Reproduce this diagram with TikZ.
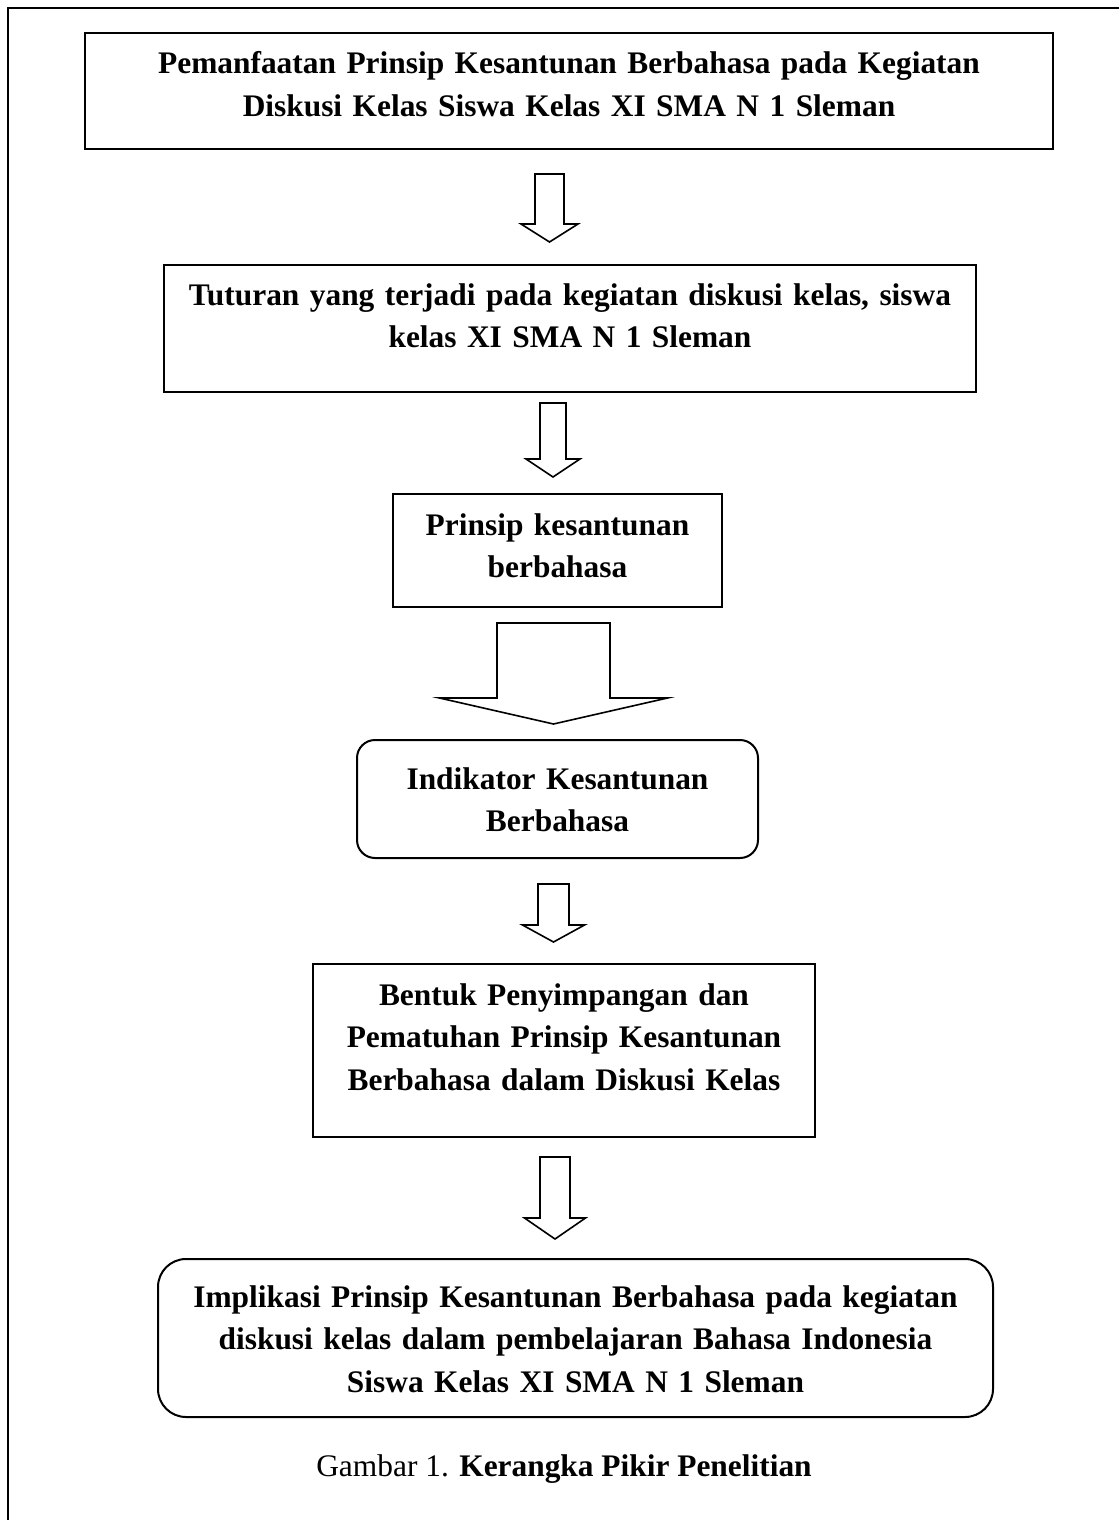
\documentclass[tikz,border=0pt]{standalone}
\usepackage{fontspec}
\setmainfont{Liberation Serif}
\usetikzlibrary{calc}
\tikzset{
  plainbox/.style={draw, line width=2pt, inner sep=0pt},
  roundbox/.style={plainbox, rounded corners=#1},
  roundbox/.default=20pt,
  boxtext/.style={anchor=base, inner sep=0pt, text width=1000pt, align=center, font=\fontsize{31.4}{42.5}\selectfont\bfseries},
  captext/.style={anchor=base, inner sep=0pt, font=\fontsize{31.4}{40}\selectfont},
  hollowarrow/.style={draw, line width=1.6pt, line join=miter, fill=white},
}
% hollow block arrow: tail, tip, half shaft, half head, head length
\newcommand{\panah}[5]{%
  \draw[hollowarrow] let \p1=(#1), \p2=(#2) in
    (\x1-#3pt,\y1) -- (\x1+#3pt,\y1) -- (\x1+#3pt,\y2+#5pt) -- (\x1+#4pt,\y2+#5pt)
    -- (\x2,\y2) -- (\x1-#4pt,\y2+#5pt) -- (\x1-#3pt,\y2+#5pt) -- cycle;}

\begin{document}
\begin{tikzpicture}[x=1pt, y=-1pt]
  \useasboundingbox (0,0) rectangle (1119,1520);
  \draw[line width=2pt] (1119,8) -- (8,8) -- (8,1520);

  \node[plainbox, minimum width=968pt, minimum height=116pt] (kotak1) at (569,91) {};
  \node[boxtext] (teks1) at (569,74) {Pemanfaatan Prinsip Kesantunan Berbahasa pada Kegiatan\\Diskusi Kelas Siswa Kelas XI SMA N 1 Sleman};

  \node[plainbox, minimum width=812pt, minimum height=127pt] (kotak2) at (570,328.5) {};
  \node[boxtext] (teks2) at (570,305) {Tuturan yang terjadi pada kegiatan diskusi kelas, siswa\\kelas XI SMA N 1 Sleman};

  \node[plainbox, minimum width=329pt, minimum height=113pt] (kotak3) at (557.5,550.5) {};
  \node[boxtext] (teks3) at (557.5,535) {Prinsip kesantunan\\berbahasa};

  \node[roundbox=18pt, minimum width=401pt, minimum height=118pt] (kotak4) at (557.5,799) {};
  \node[boxtext] (teks4) at (557.5,789) {Indikator Kesantunan\\Berbahasa};

  \node[plainbox, minimum width=502pt, minimum height=173pt] (kotak5) at (564,1050.5) {};
  \node[boxtext] (teks5) at (564,1005) {Bentuk Penyimpangan dan\\Pematuhan Prinsip Kesantunan\\Berbahasa dalam Diskusi Kelas};

  \node[roundbox=28pt, minimum width=835pt, minimum height=158pt] (kotak6) at (575.5,1338) {};
  \node[boxtext] (teks6) at (575.5,1307) {Implikasi Prinsip Kesantunan Berbahasa pada kegiatan\\diskusi kelas dalam pembelajaran Bahasa Indonesia\\Siswa Kelas XI SMA N 1 Sleman};

  \node[captext] (judul) at (564,1476) {Gambar 1. \textbf{Kerangka Pikir Penelitian}};

  % panah blok
  \coordinate (p1a) at (549.5,174);  \coordinate (p1b) at (549.5,242);
  \coordinate (p2a) at (553,403);    \coordinate (p2b) at (553,477);
  \coordinate (p3a) at (553.5,623);  \coordinate (p3b) at (553.5,724);
  \coordinate (p4a) at (553.5,884);  \coordinate (p4b) at (553.5,942);
  \coordinate (p5a) at (555,1157);   \coordinate (p5b) at (555,1239);
  \panah{p1a}{p1b}{14.5}{28.5}{18}
  \panah{p2a}{p2b}{13}{27}{18}
  \panah{p3a}{p3b}{56.5}{114}{26}
  \panah{p4a}{p4b}{15.5}{31}{17}
  \panah{p5a}{p5b}{15}{30.5}{21}
\end{tikzpicture}
\end{document}
